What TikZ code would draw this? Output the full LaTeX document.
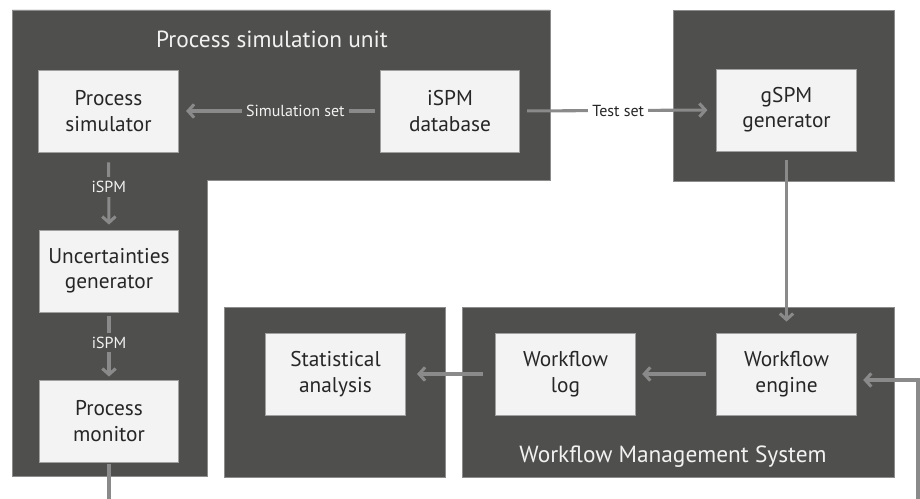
\documentclass[tikz,border=0pt]{standalone}
\usepackage{fontspec}
\setmainfont{PT Sans}
\usetikzlibrary{arrows.meta}

\definecolor{panelgray}{HTML}{4F4F4D}
\definecolor{panelrim}{HTML}{8C8C8C}
\definecolor{boxfill}{HTML}{F3F3F3}
\definecolor{boxrim}{HTML}{A0A0A0}
\definecolor{wiregray}{HTML}{8A8A8A}
\definecolor{labeltext}{HTML}{F2F2F2}

\tikzset{
  unitbox/.style={rectangle,fill=boxfill,draw=boxrim,line width=0.6pt,minimum width=104.5pt,minimum height=61.5pt,align=center,text=black!85,font=\fontsize{16}{19}\selectfont},
  panel/.style={fill=panelgray,draw=panelrim,line width=0.6pt},
  wire/.style={draw=wiregray,line width=2.3pt,-{Straight Barb[length=4.5pt,width=10pt]}},
  wirelabel/.style={fill=panelgray,text=labeltext,inner sep=3pt,font=\fontsize{12}{14}\selectfont},
  paneltitle/.style={text=labeltext,font=\fontsize{17.5}{20}\selectfont}
}

\begin{document}
\begin{tikzpicture}[x=0.75pt,y=-0.75pt]
\useasboundingbox (0,0) rectangle (920,499);

% panels
\filldraw[panel] (12,10) -- (550,10) -- (550,180) -- (207,180) -- (207,476) -- (12,476) -- cycle;
\filldraw[panel] (673,10) rectangle (894,181);
\filldraw[panel] (224,307) rectangle (445,477);
\filldraw[panel] (462,307) rectangle (894,477);

\node[paneltitle] (psutitle) at (272,39) {Process simulation unit};
\node[paneltitle] (wmstitle) at (673,457) {Workflow Management System};

% units
\node[unitbox] (psim) at (108.5,111) {Process\\simulator};
\node[unitbox] (db) at (450,111) {iSPM\\database};
\node[unitbox] (gspm) at (786.5,110) {gSPM\\generator};
\node[unitbox] (unc) at (109,271) {Uncertainties\\generator};
\node[unitbox] (mon) at (109,421) {Process\\monitor};
\node[unitbox] (stat) at (335.5,374) {Statistical\\analysis};
\node[unitbox] (log) at (565.5,374) {Workflow\\log};
\node[unitbox] (eng) at (786.5,374) {Workflow\\engine};

\coordinate (monout) at (109,499);
\coordinate (engin) at (918,499);

\draw[wire,shorten <=3.75pt,shorten >=5.6pt] (db.west) -- node[wirelabel,pos=0.42] {Simulation set} (psim.east);
\draw[wire,shorten <=5.25pt,shorten >=6.75pt] (db.east) -- node[wirelabel,fill=white,text=black!85] {Test set} (gspm.west);
\draw[wire,shorten <=7.5pt,shorten >=3.75pt] (psim.south) -- node[wirelabel,pos=0.45] {iSPM} (unc.north);
\draw[wire,shorten <=3pt,shorten >=2.25pt] (unc.south) -- node[wirelabel,pos=0.45] {iSPM} (mon.north);
\draw[wire,shorten <=6.75pt,shorten >=8.25pt] (gspm.south) -- (eng.north);
\draw[wire,shorten <=7.5pt,shorten >=5pt] (eng.west) -- (log.east);
\draw[wire,shorten <=9.4pt,shorten >=8.6pt] (log.west) -- (stat.east);
\draw[wire,-,shorten <=1.5pt] (mon.south) -- (monout);
\draw[wire,shorten >=5pt] (engin) |- ([yshift=-4.5pt]eng.east);

\end{tikzpicture}
\end{document}
